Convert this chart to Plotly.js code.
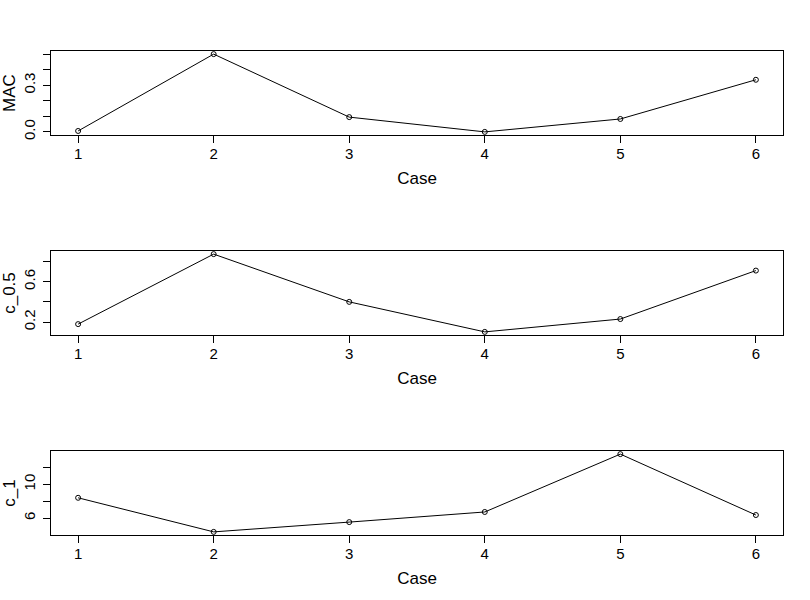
<!DOCTYPE html>
<html>
<head>
<meta charset="utf-8">
<script src="https://cdn.plot.ly/plotly-3.0.1.min.js"></script>
<style>html,body{margin:0;padding:0;background:#fff;}#chart{width:810px;height:600px;}</style>
</head>
<body>
<div id="chart"></div>
<script>
const cases = [1, 2, 3, 4, 5, 6];
const caseTicks = ['1', '2', '3', '4', '5', '6'];
const mac = [0.006, 0.5, 0.095, 0.0, 0.083, 0.335];
const c05 = [0.18, 0.873, 0.40, 0.103, 0.23, 0.71];
const c1 = [8.40, 4.36, 5.52, 6.72, 13.58, 6.36];

const macTicks = [0, 0.1, 0.2, 0.3, 0.4, 0.5];
const macLabels = ['0.0', '', '', '0.3', '', ''];
const c05Ticks = [0.2, 0.4, 0.6, 0.8];
const c05Labels = ['0.2', '', '0.6', ''];
const c1Ticks = [6, 8, 10, 12];
const c1Labels = ['6', '', '10', ''];

function padRange(arr) {
  const lo = Math.min(...arr), hi = Math.max(...arr);
  const p = (hi - lo) * 0.04;
  return [lo - p, hi + p];
}

const FONT = 'Liberation Sans, Arial, sans-serif';
const tickFont = {family: FONT, size: 15, color: '#000'};
const titleFont = {family: FONT, size: 17, color: '#000'};

function trace(y, xa, ya) {
  return {
    x: cases, y: y, xaxis: xa, yaxis: ya,
    type: 'scatter', mode: 'lines+markers',
    line: {color: '#000', width: 1},
    marker: {symbol: 'circle-open', size: 5, color: '#000', line: {width: 1, color: '#000'}},
    showlegend: false, cliponaxis: false
  };
}

function xax(anchor) {
  return {
    domain: [51/810, 783/810], anchor: anchor,
    range: padRange(cases),
    tickvals: cases, ticktext: caseTicks,
    ticks: 'outside', ticklen: 7, tickwidth: 1, tickcolor: '#000',
    showline: true, mirror: true, linecolor: '#000', linewidth: 1,
    showgrid: false, zeroline: false, tickfont: tickFont,
    ticklabelstandoff: -2,
    title: {text: 'Case', font: titleFont, standoff: 11},
    automargin: false
  };
}

function yax(anchor, top, bottom, data, tv, tt, label) {
  return {
    domain: [1 - bottom/600, 1 - top/600], anchor: anchor,
    range: padRange(data),
    tickvals: tv, ticktext: tt, tickangle: -90,
    ticks: 'outside', ticklen: 7, tickwidth: 1, tickcolor: '#000',
    showline: true, mirror: true, linecolor: '#000', linewidth: 1,
    showgrid: false, zeroline: false, tickfont: tickFont,
    ticklabelstandoff: 2,
    title: {text: label, font: titleFont, standoff: 7},
    automargin: false
  };
}

const data = [
  trace(mac, 'x', 'y'),
  trace(c05, 'x2', 'y2'),
  trace(c1, 'x3', 'y3')
];

const layout = {
  width: 810, height: 600,
  margin: {l: 0, r: 0, t: 0, b: 0},
  paper_bgcolor: '#fff', plot_bgcolor: '#fff',
  font: {family: FONT, color: '#000'},
  xaxis: xax('y'),
  yaxis: yax('x', 51, 135, mac, macTicks, macLabels, 'MAC'),
  xaxis2: xax('y2'),
  yaxis2: yax('x2', 251, 335, c05, c05Ticks, c05Labels, 'c_0.5'),
  xaxis3: xax('y3'),
  yaxis3: yax('x3', 451, 535, c1, c1Ticks, c1Labels, 'c_1')
};

Plotly.newPlot('chart', data, layout, {displayModeBar: false, staticPlot: true});
</script>
</body>
</html>
